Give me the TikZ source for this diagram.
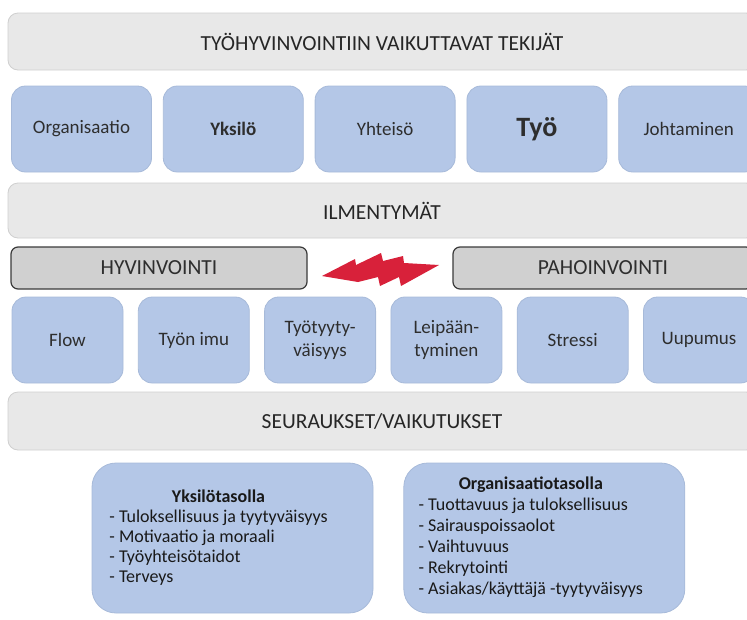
\documentclass[tikz,border=0pt]{standalone}
\usepackage{fontspec}
\setmainfont{Carlito}
\usepackage{xcolor}
\usepackage{tikz}
\usetikzlibrary{positioning}

\definecolor{bannerfill}{HTML}{E8E8E8}
\definecolor{bannerline}{HTML}{CFCFCF}
\definecolor{boxblue}{HTML}{B4C7E7}
\definecolor{boxline}{HTML}{A7BAD9}
\definecolor{stategray}{HTML}{D0D0D0}
\definecolor{stateline}{HTML}{3A3A3A}
\definecolor{boltred}{HTML}{D8213A}
\definecolor{txt}{HTML}{2E2E2E}

\begin{document}
\begin{tikzpicture}[
  x=1pt, y=-1pt,
  node distance=11pt,
  banner/.style={draw=bannerline, fill=bannerfill, rounded corners=10pt, line width=0.8pt,
    minimum width=748pt, minimum height=57pt, text=black!85, font=\fontsize{21.5}{26}\selectfont},
  factor/.style={draw=boxline, fill=boxblue, rounded corners=14pt, line width=0.8pt,
    minimum width=140pt, minimum height=86pt, text=txt, align=center, font=\fontsize{19}{23}\selectfont},
  sign/.style={factor, minimum width=111pt},
  state/.style={draw=stateline, fill=stategray, rounded corners=7pt, line width=1.2pt,
    minimum height=42pt, text=txt, font=\fontsize{21.5}{26}\selectfont},
  result/.style={draw=boxline, fill=boxblue, rounded corners=24pt, line width=0.8pt,
    minimum width=281pt, minimum height=150pt, text=black!90, font=\fontsize{18}{20}\selectfont}
]
\useasboundingbox (0,0) rectangle (747,619);
\clip (0,0) rectangle (747,619);

% tekijat
\node[banner] (tekijat) at (382,41.5) {TYÖHYVINVOINTIIN VAIKUTTAVAT TEKIJÄT};
\node[factor] (org) at (81.5,129) {Organisaatio};
\node[factor, right=of org] (yks) {\bfseries Yksilö};
\node[factor, right=of yks] (yht) {Yhteisö};
\node[factor, right=of yht] (tyo) {\bfseries\fontsize{28}{32}\selectfont Työ};
\node[factor, right=of tyo] (joht) {Johtaminen};

% ilmentymat
\node[banner, minimum height=55pt] (ilm) at (382,210.5) {ILMENTYMÄT};
\node[state, minimum width=296pt] (hyv) at (159,268) {HYVINVOINTI};
\node[state, minimum width=300pt] (pah) at (603,268) {PAHOINVOINTI};
\fill[boltred] (322,276) -- (355,259) -- (356,265) -- (381,253) -- (383,261) -- (403,256)
  -- (404,263) -- (439,265) -- (401,286) -- (399,277) -- (380,286) -- (378,277)
  -- (358,282) -- cycle;

\begin{scope}[node distance=14.5pt]
\node[sign] (flow) at (67.5,340) {Flow};
\node[sign, right=of flow] (imu) {Työn imu};
\node[sign, right=of imu] (tyyt) {Työtyyty-\\väisyys};
\node[sign, right=of tyyt] (leip) {Leipään-\\tyminen};
\node[sign, right=of leip] (stress) {Stressi};
\node[sign, right=of stress] (uup) {Uupumus};
\end{scope}

% seuraukset
\node[banner, minimum height=58pt] (seur) at (382,421) {SEURAUKSET/VAIKUTUKSET};
\node[result] (ykstaso) at (232.5,538) {\raisebox{-4pt}{\begin{tabular}{@{}l@{}}
  \multicolumn{1}{@{}c@{}}{\bfseries Yksilötasolla}\\
  - Tuloksellisuus ja tyytyväisyys\\
  - Motivaatio ja moraali\\
  - Työyhteisötaidot\\
  - Terveys
  \end{tabular}}\hspace*{28pt}};
\node[result, right=30pt of ykstaso, font=\fontsize{18}{21}\selectfont] (orgtaso) {\begin{tabular}{@{}l@{}}
  \multicolumn{1}{@{}c@{}}{\bfseries Organisaatiotasolla}\\
  - Tuottavuus ja tuloksellisuus\\
  - Sairauspoissaolot\\
  - Vaihtuvuus\\
  - Rekrytointi\\
  - Asiakas/käyttäjä -tyytyväisyys
  \end{tabular}\hspace*{27pt}};
\end{tikzpicture}
\end{document}
